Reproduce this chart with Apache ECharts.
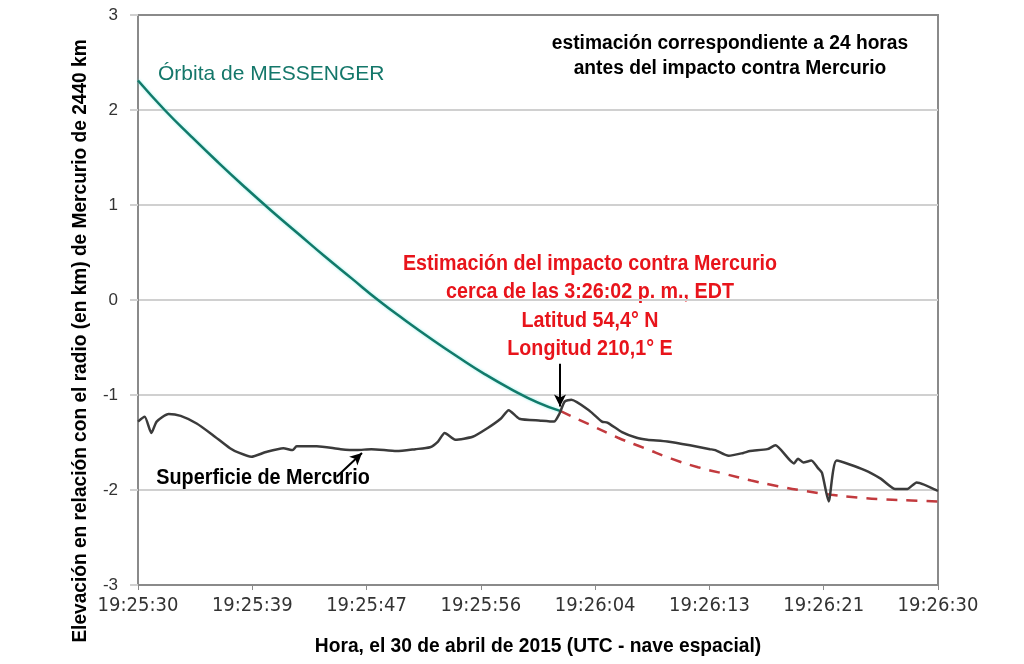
<!DOCTYPE html>
<html>
<head>
<meta charset="utf-8">
<script src="https://cdn.jsdelivr.net/npm/echarts@6/dist/echarts.min.js"></script>
<style>
  html, body { margin: 0; padding: 0; background: #fff; }
  #chart { width: 1024px; height: 664px; }
</style>
</head>
<body>
<div id="chart"></div>
<script>
// time = seconds after 19:25:30 UTC, elevation in km
const tickLabels = ['19:25:30', '19:25:39', '19:25:47', '19:25:56', '19:26:04', '19:26:13', '19:26:21', '19:26:30']

// MESSENGER orbit
const orbitT = [0, 2, 4, 6, 8, 10, 12, 14, 16, 18, 20, 22, 24, 26, 28, 30, 31.7]
const orbitV = [2.31, 2.00, 1.72, 1.45, 1.19, 0.94, 0.70, 0.46, 0.23, 0.00, -0.21, -0.41, -0.60, -0.78, -0.94, -1.08, -1.17]

// orbit continued below the surface (estimate)
const estT = [31.7, 34, 36, 38, 40, 42, 44, 46, 48, 50, 52, 54, 56, 58, 60]
const estV = [-1.17, -1.32, -1.45, -1.56, -1.67, -1.76, -1.83, -1.90, -1.96, -2.01, -2.05, -2.08, -2.10, -2.11, -2.12]

// Mercury surface
const surfT = [0, 0.5, 1.0, 1.4, 2.3, 3.2, 4.4, 5.6, 6.9, 7.6, 8.5, 9.6, 10.9, 11.6, 11.9, 13.4, 15.2, 16.4, 17.5, 19.4, 20.8, 21.9, 22.5, 23.0, 23.8, 25.1, 26.2, 27.2, 27.8, 28.6, 30.2, 31.2, 31.6, 32.0, 32.5, 33.9, 34.8, 35.2, 36.3, 37.4, 38.2, 39.7, 41.4, 42.9, 43.3, 44.3, 45.4, 45.9, 47.2, 47.8, 49.2, 49.5, 49.9, 50.5, 51.0, 51.3, 51.8, 52.4, 54.5, 55.7, 56.8, 57.7, 58.4, 60]
const surfV = [-1.28, -1.23, -1.40, -1.28, -1.20, -1.22, -1.30, -1.42, -1.56, -1.61, -1.65, -1.60, -1.56, -1.58, -1.54, -1.54, -1.57, -1.58, -1.57, -1.59, -1.57, -1.55, -1.49, -1.40, -1.47, -1.44, -1.35, -1.25, -1.16, -1.25, -1.27, -1.28, -1.20, -1.07, -1.05, -1.17, -1.28, -1.29, -1.39, -1.45, -1.47, -1.49, -1.53, -1.57, -1.58, -1.64, -1.61, -1.59, -1.57, -1.53, -1.72, -1.67, -1.71, -1.69, -1.77, -1.82, -2.12, -1.69, -1.79, -1.88, -1.99, -1.99, -1.92, -2.01]

const TICK_STEP = 60 / 7
const COND = "'DejaVu Sans Condensed', 'Liberation Sans', sans-serif"
const SANS = "'Liberation Sans', Arial, sans-serif"
const pairs = (xs, ys) => xs.map((x, i) => [x, ys[i]])

// narrow bold text (the original uses a condensed face) -> squeeze Liberation Sans horizontally
function narrowText(text, x, y, size, squeeze, color, extra) {
  return Object.assign({
    type: 'text',
    x: x,
    y: y,
    scaleX: squeeze,
    style: {
      text: text, x: 0, y: 0,
      align: 'center', verticalAlign: 'middle',
      fill: color, font: 'bold ' + size + 'px ' + SANS
    }
  }, extra || {})
}

const chart = echarts.init(document.getElementById('chart'))

chart.setOption({
  animation: false,
  grid: {
    left: 138, right: 86, top: 15, bottom: 79,
    show: true, borderColor: '#8a8a8a', borderWidth: 2
  },
  xAxis: {
    type: 'value',
    min: 0,
    max: 60,
    interval: TICK_STEP,
    axisLine: { onZero: false, lineStyle: { color: '#8a8a8a', width: 2 } },
    axisTick: { length: 5, lineStyle: { color: '#8a8a8a', width: 1 } },
    axisLabel: {
      margin: 11,
      color: '#333',
      fontSize: 20,
      fontFamily: COND,
      formatter: v => tickLabels[Math.round(v / TICK_STEP)]
    },
    splitLine: { show: false }
  },
  yAxis: {
    type: 'value',
    min: -3,
    max: 3,
    interval: 1,
    axisLine: { show: true, lineStyle: { color: '#8a8a8a', width: 2 } },
    axisTick: { show: true, length: 8, lineStyle: { color: '#d0d0d0', width: 2 } },
    axisLabel: { margin: 20, color: '#333', fontSize: 17, fontFamily: SANS },
    splitLine: { showMinLine: false, showMaxLine: false, lineStyle: { color: '#d0d0d0', width: 2 } }
  },
  series: [
    {
      name: 'orbita',
      type: 'line',
      data: pairs(orbitT, orbitV),
      smooth: true,
      symbol: 'none',
      lineStyle: { color: '#117a6a', width: 2.5, shadowColor: 'rgba(80,230,220,0.6)', shadowBlur: 3 },
      z: 3
    },
    {
      name: 'estimacion',
      type: 'line',
      data: pairs(estT, estV),
      smooth: true,
      symbol: 'none',
      lineStyle: { color: '#c23a3e', width: 2.5, type: [11, 9] },
      z: 2
    },
    {
      name: 'superficie',
      type: 'line',
      data: pairs(surfT, surfV),
      smooth: 0.2,
      symbol: 'none',
      lineStyle: { color: '#3b3b3b', width: 2.5 },
      z: 4,
      markLine: {
        silent: true,
        symbol: ['none', 'arrow'],
        symbolSize: [9, 12],
        label: { show: false },
        lineStyle: { color: '#000', width: 2, type: 'solid' },
        data: [
          [{ coord: [14.9, -1.86] }, { coord: [16.8, -1.61] }],
          [{ coord: [31.65, -0.67] }, { coord: [31.65, -1.12] }]
        ]
      }
    }
  ],
  graphic: [
    narrowText('Elevación en relación con el radio (en km) de Mercurio de 2440 km', 80, 341, 21, 0.91, '#000',
      { rotation: Math.PI / 2 }),
    narrowText('Hora, el 30 de abril de 2015 (UTC - nave espacial)', 538, 646, 21, 0.915, '#000'),
    {
      type: 'text',
      style: {
        text: 'Órbita de MESSENGER',
        x: 158, y: 74, align: 'left', verticalAlign: 'middle',
        fill: '#14776a', font: '21px ' + SANS
      }
    },
    narrowText('estimación correspondiente a 24 horas', 730, 43, 20, 0.96, '#000'),
    narrowText('antes del impacto contra Mercurio', 730, 68, 20, 0.96, '#000'),
    narrowText('Estimación del impacto contra Mercurio', 590, 264, 22, 0.895, '#e8141b'),
    narrowText('cerca de las 3:26:02 p. m., EDT', 590, 292, 22, 0.895, '#e8141b'),
    narrowText('Latitud 54,4° N', 590, 321, 22, 0.895, '#e8141b'),
    narrowText('Longitud 210,1° E', 590, 349, 22, 0.895, '#e8141b'),
    narrowText('Superficie de Mercurio', 263, 478, 22, 0.9, '#000')
  ]
})
</script>
</body>
</html>
